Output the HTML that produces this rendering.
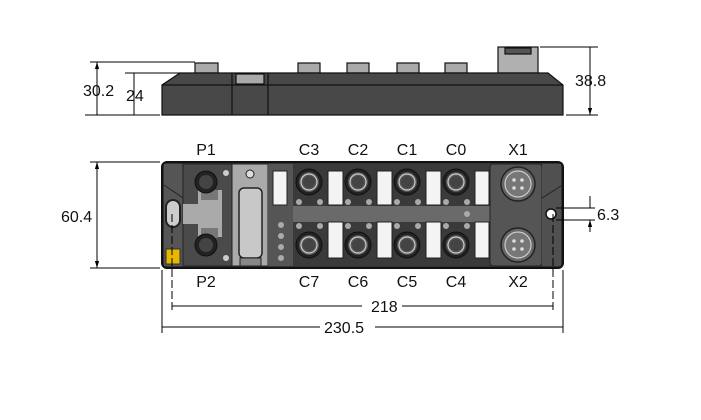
<!DOCTYPE html>
<html><head><style>body{margin:0;background:#fff}svg{display:block}text{font-family:"Liberation Sans",sans-serif;font-size:16px;fill:#111}</style></head><body>
<svg width="701" height="420" viewBox="0 0 701 420" xmlns="http://www.w3.org/2000/svg">
<defs>
<marker id="a" viewBox="0 0 10 10" refX="10" refY="5" markerWidth="7" markerHeight="7" orient="auto-start-reverse"><path d="M0,2L10,5L0,8z" fill="#000"/></marker>
<g id="cm"><circle r="13" fill="#222" stroke="#111"/><circle r="10" fill="#555"/><circle r="8" fill="none" stroke="#ccc" stroke-width="1.2"/><circle r="6" fill="#444"/></g>
<g id="xc"><circle r="17" fill="#666" stroke="#222" stroke-width="1.5"/><circle r="13" fill="#777" stroke="#ccc" stroke-width="1.2"/><circle cx="-4" cy="-4" r="1.8" fill="#ddd"/><circle cx="4" cy="-4" r="1.8" fill="#ddd"/><circle cx="-4" cy="4" r="1.8" fill="#ddd"/><circle cx="4" cy="4" r="1.8" fill="#ddd"/></g>
</defs>
<g stroke="#111" stroke-width="1.2">
<rect x="195" y="63" width="23" height="10" fill="#aaa"/>
<rect x="298" y="63" width="22" height="10" fill="#aaa"/>
<rect x="347" y="63" width="22" height="10" fill="#aaa"/>
<rect x="397" y="63" width="22" height="10" fill="#aaa"/>
<rect x="445" y="63" width="22" height="10" fill="#aaa"/>
<rect x="498" y="47" width="40" height="26" fill="#b0b0b0"/>
<rect x="505" y="48" width="26" height="6" fill="#555"/>
<path d="M162,115 L162,85 L180,73 L548,73 L563,85 L563,115 Z" fill="#484848"/>
<path d="M162,85 L563,85" fill="none"/>
<path d="M232,73V115M268,73V115" fill="none"/>
<rect x="236" y="74" width="28" height="10" fill="#aaa"/>
</g>
<g stroke="#000" stroke-width="1" fill="none">
<path d="M90,62H195M125,73H180M85,115H160M540,47H598M566,115H598"/>
<path d="M97,62V115M134,73V115M590,47V115" marker-start="url(#a)" marker-end="url(#a)"/>
</g>
<text x="83" y="96">30.2</text><text x="126" y="101">24</text><text x="575" y="86">38.8</text>
<rect x="162" y="162" width="401" height="106" rx="5" fill="#333" stroke="#111" stroke-width="2"/>
<path d="M164,164H183V266H164Z" fill="#555"/>
<path d="M164,185L183,198" stroke="#222" fill="none"/>
<rect x="166" y="200" width="14" height="27" rx="7" fill="#ccc" stroke="#222" stroke-width="2"/>
<rect x="166" y="249" width="14" height="15" fill="#e8b800" stroke="#333"/>
<rect x="183" y="164" width="49" height="102" fill="#4a4a4a" stroke="#222"/>
<path d="M198,190h24v47h-24zM183,204h15v20h-15z" fill="#aaa"/>
<rect x="201" y="190" width="17" height="10" fill="#777"/><rect x="201" y="228" width="17" height="10" fill="#777"/>
<circle cx="206" cy="182" r="11" fill="#222" stroke="#111"/><circle cx="206" cy="182" r="7" fill="#444"/>
<circle cx="206" cy="245" r="11" fill="#222" stroke="#111"/><circle cx="206" cy="245" r="7" fill="#444"/>
<circle cx="226" cy="173" r="3" fill="#ccc"/><circle cx="226" cy="258" r="3" fill="#ccc"/>
<rect x="232" y="164" width="36" height="102" fill="#aaa" stroke="#222"/>
<rect x="239" y="188" width="23" height="70" rx="5" fill="#c8c8c8" stroke="#222" stroke-width="1.5"/>
<circle cx="250" cy="174" r="4" fill="#ddd" stroke="#222"/>
<rect x="240" y="258" width="21" height="8" fill="#888" stroke="#222"/>
<rect x="268" y="164" width="222" height="102" fill="#3a3a3a"/>
<rect x="268" y="206" width="222" height="16" fill="#6a6a6a"/>
<rect x="268" y="164" width="25" height="102" fill="#555"/>
<g fill="#f4f4f4" stroke="#222">
<rect x="273" y="171" width="14" height="34"/>
<rect x="328" y="171" width="15" height="34"/><rect x="377" y="171" width="15" height="34"/><rect x="426" y="171" width="15" height="34"/><rect x="475" y="171" width="14" height="34"/>
<rect x="328" y="222" width="15" height="36"/><rect x="377" y="222" width="15" height="36"/><rect x="426" y="222" width="15" height="36"/><rect x="475" y="222" width="14" height="36"/>
</g>
<g fill="#aaa">
<circle cx="281" cy="225" r="3"/><circle cx="281" cy="236" r="3"/><circle cx="281" cy="247" r="3"/><circle cx="281" cy="258" r="3"/>
<circle cx="299" cy="202" r="3"/><circle cx="320" cy="202" r="3"/><circle cx="348" cy="202" r="3"/><circle cx="369" cy="202" r="3"/><circle cx="397" cy="202" r="3"/><circle cx="418" cy="202" r="3"/><circle cx="446" cy="202" r="3"/><circle cx="467" cy="202" r="3"/>
<circle cx="299" cy="226" r="3"/><circle cx="320" cy="226" r="3"/><circle cx="348" cy="226" r="3"/><circle cx="369" cy="226" r="3"/><circle cx="397" cy="226" r="3"/><circle cx="418" cy="226" r="3"/><circle cx="446" cy="226" r="3"/><circle cx="467" cy="226" r="3"/><circle cx="467" cy="214" r="3"/>
</g>
<use href="#cm" x="309" y="182"/><use href="#cm" x="358" y="182"/><use href="#cm" x="407" y="182"/><use href="#cm" x="456" y="182"/>
<use href="#cm" x="309" y="245"/><use href="#cm" x="358" y="245"/><use href="#cm" x="407" y="245"/><use href="#cm" x="456" y="245"/>
<rect x="490" y="164" width="52" height="102" rx="3" fill="#555" stroke="#222"/>
<use href="#xc" x="518" y="184"/><use href="#xc" x="518" y="245"/>
<path d="M542,164H561V266H542Z" fill="#505050"/>
<path d="M542,198L561,186" stroke="#222" fill="none"/>
<circle cx="551" cy="214" r="5" fill="#fff" stroke="#111" stroke-width="1.5"/>
<g stroke="#000" stroke-width="1" fill="none">
<path d="M90,162H160M90,268H160M162,270V333M563,270V333M556,208H595M556,220H595" />
<path d="M172,214V312M553,214V312" stroke-dasharray="8,3"/>
<path d="M97,162V268M172,306H362M553,306H402M162,327H320M563,327H375" marker-start="url(#a)"/>
<path d="M97,268V162" marker-start="url(#a)"/>
<path d="M590,196V208M590,232V220" marker-end="url(#a)"/>
</g>
<text x="61" y="222">60.4</text><text x="597" y="220">6.3</text>
<text x="371" y="312">218</text><text x="324" y="333">230.5</text>
<g text-anchor="middle">
<text x="206" y="155">P1</text><text x="309" y="155">C3</text><text x="358" y="155">C2</text><text x="407" y="155">C1</text><text x="456" y="155">C0</text><text x="518" y="155">X1</text>
<text x="206" y="287">P2</text><text x="309" y="287">C7</text><text x="358" y="287">C6</text><text x="407" y="287">C5</text><text x="456" y="287">C4</text><text x="518" y="287">X2</text>
</g>
</svg>
</body></html>
